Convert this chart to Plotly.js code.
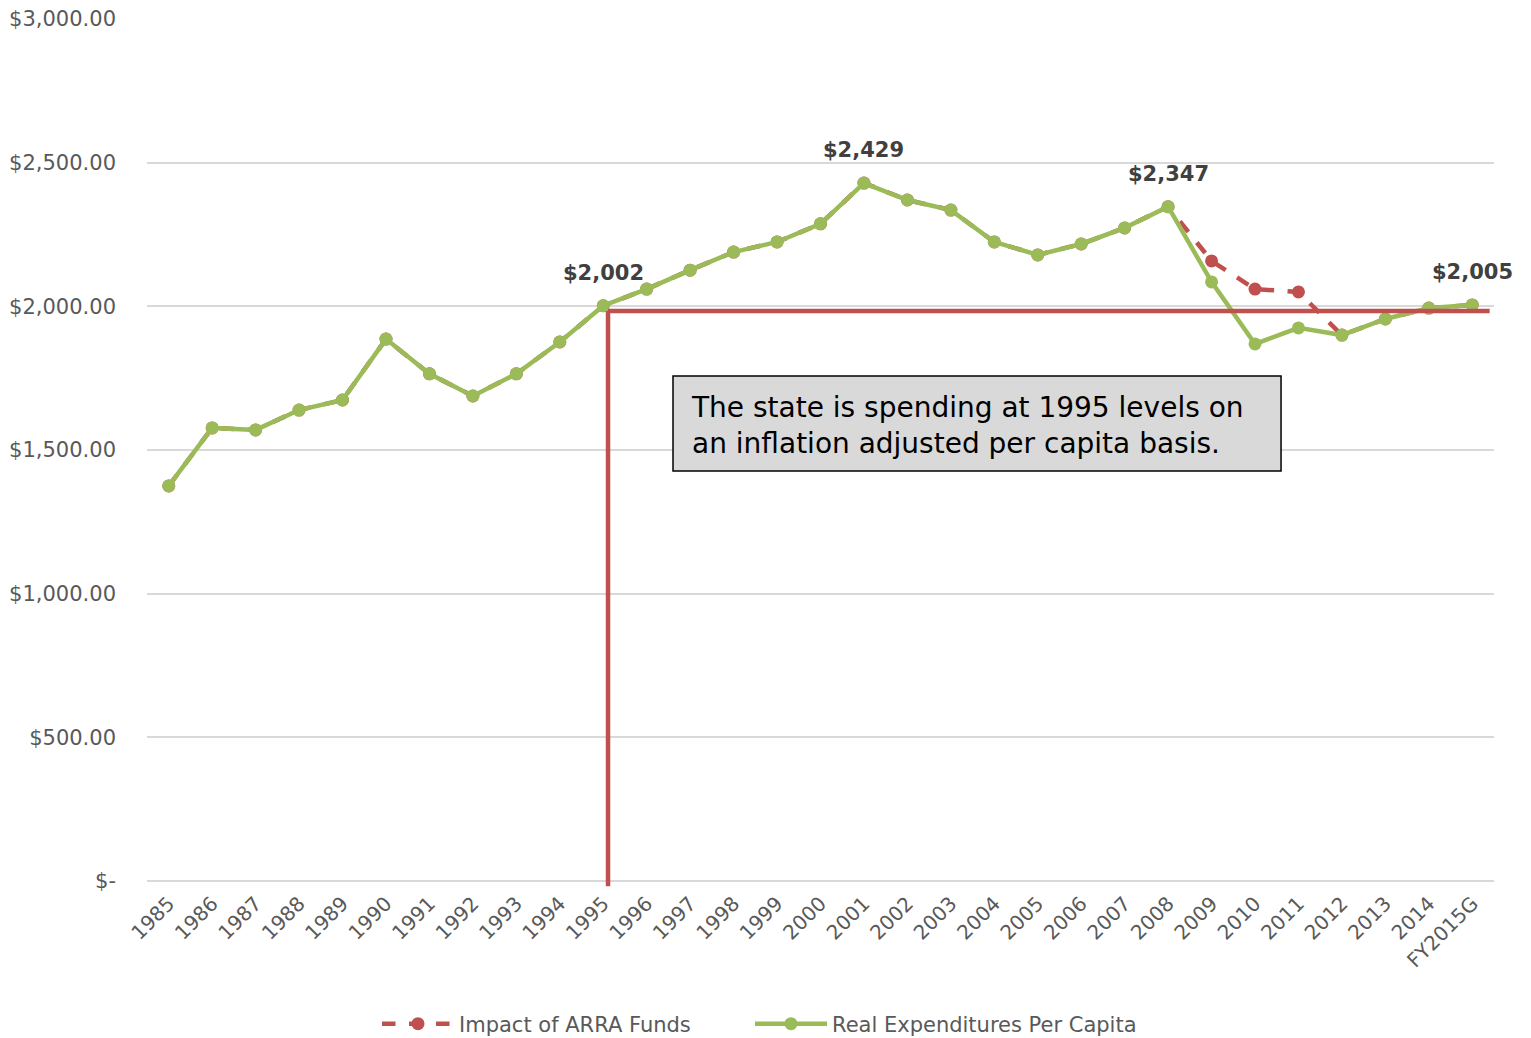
<!DOCTYPE html>
<html>
<head>
<meta charset="utf-8">
<script src="https://cdn.plot.ly/plotly-3.0.1.min.js"></script>
<style>html,body{margin:0;padding:0;background:#fff;}#chart{width:1531px;height:1038px;}</style>
</head>
<body>
<div id="chart"></div>
<script>
const years = ['1985','1986','1987','1988','1989','1990','1991','1992','1993','1994','1995','1996','1997','1998','1999','2000','2001','2002','2003','2004','2005','2006','2007','2008','2009','2010','2011','2012','2013','2014','FY2015G'];
const realExpenditures = [1375,1577,1570,1639,1674,1886,1765,1688,1765,1876,2002,2060,2126,2189,2224,2287,2429,2370,2335,2224,2179,2217,2273,2347,2085,1869,1925,1900,1956,1994,2005];
const arraImpact = [1375,1577,1570,1639,1674,1886,1765,1688,1765,1876,2002,2060,2126,2189,2224,2287,2429,2370,2335,2224,2179,2217,2273,2347,2158,2060,2050,1900,1956,1994,2005];
const labelYears = ['1995','2001','2008','FY2015G'];
const labelValues = [2002,2429,2347,2005];
const labelTexts = ['$2,002','$2,429','$2,347','$2,005'];
const levelValue = 1984;
const yTickVals = [0,500,1000,1500,2000,2500,3000];
const yTickText = ['$-','$500.00','$1,000.00','$1,500.00','$2,000.00','$2,500.00','$3,000.00'];
const noteText = 'The state is spending at 1995 levels on<br>an inflation adjusted per capita basis.';

const FONT = 'DejaVu Sans, Verdana, sans-serif';
const red = '#C0504D', green = '#9BBB59';

const traces = [
  {x: years, y: arraImpact, name: 'Impact of ARRA Funds', type: 'scatter', mode: 'lines+markers',
   line: {color: red, width: 4.5, dash: 'dash'}, marker: {color: red, size: 13}, legend: 'legend'},
  {x: years, y: realExpenditures, name: 'Real Expenditures Per Capita', type: 'scatter', mode: 'lines+markers',
   line: {color: green, width: 4.5}, marker: {color: green, size: 13}, legend: 'legend2'}
];

const annotations = labelYears.map((yr, i) => ({
  x: years.indexOf(yr), y: labelValues[i], xref: 'x', yref: 'y', text: '<b>' + labelTexts[i] + '</b>',
  showarrow: false, yanchor: 'middle', yshift: 33,
  font: {family: FONT, size: 21, color: '#404040'}
}));
annotations.push({
  x: 0.4025, y: 0.529, xref: 'paper', yref: 'paper', xanchor: 'left', yanchor: 'middle',
  text: noteText, align: 'left', showarrow: false,
  font: {family: FONT, size: 28, color: '#000'}
});

const i1995 = years.indexOf('1995');
const shapes = [
  {type: 'rect', xref: 'paper', yref: 'paper', x0: 0.3905, x1: 0.8419, y0: 0.4756, y1: 0.5858,
   fillcolor: '#D9D9D9', line: {color: '#000', width: 1.5}, layer: 'above'},
  {type: 'line', xref: 'x', yref: 'y', x0: i1995 + 0.11, x1: years.length - 0.6, y0: levelValue, y1: levelValue,
   line: {color: red, width: 4.5}},
  {type: 'line', xref: 'x', yref: 'paper', x0: i1995 + 0.11, x1: i1995 + 0.11, y0: -0.006, y1: levelValue / 3000,
   line: {color: red, width: 4.5}}
];

const legendBase = {orientation: 'h', xref: 'container', yref: 'container', xanchor: 'left', y: 0.0135, yanchor: 'middle',
  itemwidth: 72, font: {family: FONT, size: 21, color: '#595959'}, bgcolor: 'rgba(0,0,0,0)'};

const layout = {
  width: 1531, height: 1038,
  margin: {l: 147, r: 37, t: 19, b: 157, autoexpand: false},
  paper_bgcolor: '#fff', plot_bgcolor: '#fff',
  font: {family: FONT, color: '#595959'},
  showlegend: true,
  legend: Object.assign({}, legendBase, {x: 377 / 1531}),
  legend2: Object.assign({}, legendBase, {x: 750 / 1531}),
  xaxis: {type: 'category', range: [-0.5, years.length - 0.5], tickangle: -45,
    tickfont: {family: FONT, size: 20, color: '#595959'}, showgrid: false,
    showline: false, ticks: '', zeroline: false, ticklabelstandoff: 6},
  yaxis: {range: [0, 3000], tickvals: yTickVals, ticktext: yTickText, showgrid: true,
    gridcolor: '#D9D9D9', gridwidth: 2, zeroline: true, zerolinecolor: '#D9D9D9', zerolinewidth: 2,
    ticks: '', ticklabelstandoff: 30,
    tickfont: {family: FONT, size: 21, color: '#595959'}},
  annotations: annotations,
  shapes: shapes
};

Plotly.newPlot('chart', traces, layout, {displayModeBar: false});
</script>
</body>
</html>
